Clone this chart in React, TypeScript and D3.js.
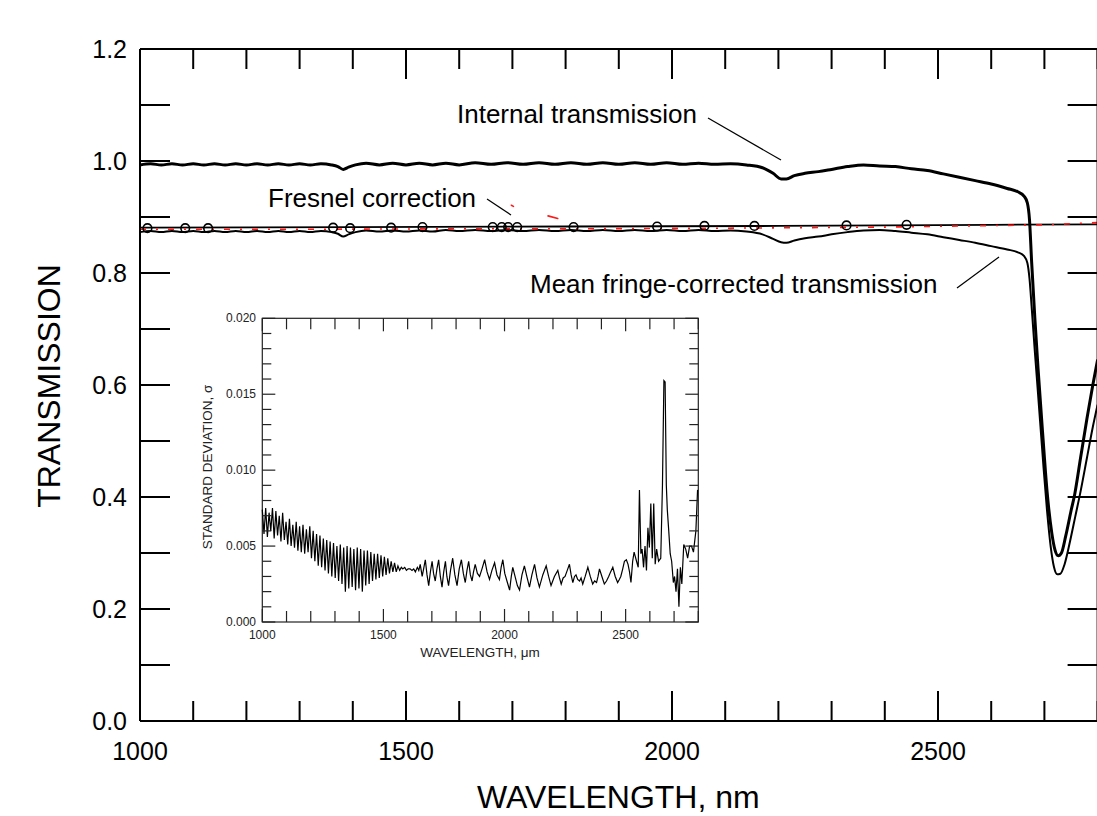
import React from "react";
import * as d3 from "d3";

// ---------- DATA ----------
const internalTransmission: [number, number][] = [
  [1000, 0.993], [1020, 0.995], [1040, 0.993], [1060, 0.995], [1080, 0.993], [1100, 0.995],
  [1120, 0.993], [1140, 0.995], [1160, 0.993], [1180, 0.995], [1200, 0.993], [1220, 0.995],
  [1240, 0.993], [1260, 0.995], [1280, 0.993], [1300, 0.995], [1320, 0.993], [1340, 0.995],
  [1360, 0.993], [1372, 0.99], [1382, 0.985], [1392, 0.989], [1405, 0.993], [1425, 0.996],
  [1450, 0.993], [1475, 0.996], [1500, 0.993], [1525, 0.996], [1550, 0.993], [1575, 0.996],
  [1600, 0.993], [1630, 0.997], [1660, 0.994], [1690, 0.997], [1720, 0.994], [1750, 0.997],
  [1780, 0.994], [1810, 0.997], [1840, 0.994], [1870, 0.997], [1900, 0.994], [1930, 0.997],
  [1960, 0.994], [1990, 0.997], [2020, 0.994], [2050, 0.996], [2080, 0.994], [2110, 0.995],
  [2140, 0.993], [2170, 0.988], [2190, 0.978], [2205, 0.968], [2215, 0.968], [2230, 0.974],
  [2250, 0.978], [2275, 0.981], [2300, 0.985], [2330, 0.99], [2360, 0.993], [2390, 0.991],
  [2420, 0.99], [2450, 0.986], [2480, 0.983], [2510, 0.977], [2540, 0.971], [2570, 0.965],
  [2600, 0.959], [2630, 0.951], [2650, 0.945], [2662, 0.937], [2668, 0.925], [2672, 0.895],
  [2676, 0.82], [2682, 0.72], [2688, 0.63], [2697, 0.51], [2705, 0.41], [2714, 0.335],
  [2720, 0.305], [2726, 0.295], [2732, 0.3], [2740, 0.33], [2750, 0.375], [2757, 0.405],
  [2768, 0.47], [2780, 0.54], [2791, 0.6], [2800, 0.645],
];

const meanFringeCorrected: [number, number][] = [
  [1000, 0.873], [1020, 0.875], [1040, 0.873], [1060, 0.875], [1080, 0.873], [1100, 0.875],
  [1120, 0.873], [1140, 0.875], [1160, 0.873], [1180, 0.875], [1200, 0.873], [1220, 0.875],
  [1240, 0.873], [1260, 0.875], [1280, 0.873], [1300, 0.875], [1320, 0.873], [1340, 0.875],
  [1360, 0.873], [1372, 0.87], [1382, 0.865], [1392, 0.869], [1405, 0.873], [1425, 0.876],
  [1450, 0.874], [1475, 0.876], [1500, 0.874], [1525, 0.876], [1550, 0.874], [1575, 0.877],
  [1600, 0.875], [1630, 0.877], [1660, 0.875], [1690, 0.877], [1720, 0.875], [1750, 0.877],
  [1780, 0.875], [1810, 0.877], [1840, 0.875], [1870, 0.877], [1900, 0.875], [1930, 0.877],
  [1960, 0.875], [1990, 0.877], [2020, 0.875], [2050, 0.877], [2080, 0.875], [2110, 0.876],
  [2140, 0.874], [2170, 0.869], [2190, 0.861], [2205, 0.855], [2215, 0.854], [2230, 0.858],
  [2250, 0.862], [2275, 0.865], [2300, 0.869], [2330, 0.873], [2360, 0.876], [2390, 0.877],
  [2420, 0.875], [2450, 0.872], [2480, 0.869], [2510, 0.864], [2540, 0.859], [2570, 0.854],
  [2600, 0.848], [2630, 0.842], [2650, 0.837], [2662, 0.83], [2668, 0.818], [2672, 0.79],
  [2676, 0.74], [2682, 0.66], [2688, 0.585], [2697, 0.47], [2705, 0.375], [2712, 0.31],
  [2718, 0.275], [2724, 0.262], [2730, 0.263], [2738, 0.28], [2748, 0.32], [2758, 0.365],
  [2768, 0.41], [2780, 0.47], [2791, 0.525], [2800, 0.565],
];

const fresnelLine: [number, number][] = [
  [1000, 0.881], [1400, 0.882], [1800, 0.883], [2200, 0.884], [2600, 0.886], [2800, 0.887],
];

const fresnelMarkers: [number, number][] = [
  [1014, 0.880], [1085, 0.880], [1128, 0.880], [1363, 0.881], [1395, 0.880], [1472, 0.881],
  [1531, 0.882], [1663, 0.882], [1680, 0.882], [1692, 0.882], [1709, 0.882], [1815, 0.882],
  [1972, 0.883], [2061, 0.884], [2155, 0.884], [2328, 0.885], [2441, 0.886],
];

// red dash-dot trace (flat part)
const redCurve: [number, number][] = [
  [1000, 0.878], [1300, 0.878], [1600, 0.879], [1690, 0.879], [1830, 0.879],
  [2100, 0.880], [2400, 0.882], [2700, 0.886], [2800, 0.890],
];
// isolated red excursion near 1700-1800 nm (null = break)
const redExcursion: [number, number | null][] = [
  [1698, 0.921], [1702, 0.919], [1703, null], [1767, 0.902], [1795, 0.895],
];

const stdDev: [number, number][] = [
  [1000, 0.0074], [1007, 0.0058], [1014, 0.0075], [1021, 0.0056], [1028, 0.0072], [1035, 0.006],
  [1042, 0.0075], [1049, 0.0055], [1056, 0.0073], [1063, 0.0057], [1070, 0.007], [1077, 0.0053],
  [1084, 0.0072], [1091, 0.0054], [1098, 0.0066], [1105, 0.0051], [1112, 0.0068], [1119, 0.005],
  [1126, 0.0064], [1133, 0.0049], [1140, 0.0066], [1147, 0.0047], [1154, 0.0063], [1161, 0.0046],
  [1168, 0.0064], [1175, 0.0045], [1182, 0.0061], [1189, 0.0046], [1196, 0.0063], [1203, 0.0042],
  [1210, 0.006], [1217, 0.004], [1224, 0.0058], [1231, 0.0037], [1238, 0.0057], [1245, 0.0036],
  [1252, 0.0055], [1259, 0.0034], [1266, 0.0054], [1273, 0.0032], [1280, 0.0053], [1287, 0.003],
  [1294, 0.0052], [1301, 0.0029], [1308, 0.005], [1315, 0.0027], [1322, 0.0051], [1329, 0.0025],
  [1336, 0.0049], [1343, 0.002], [1350, 0.005], [1357, 0.0022], [1364, 0.0049], [1371, 0.0023],
  [1378, 0.0048], [1385, 0.0021], [1392, 0.0049], [1399, 0.0022], [1406, 0.0048], [1413, 0.002],
  [1420, 0.0047], [1427, 0.0024], [1434, 0.0047], [1441, 0.0025], [1448, 0.0046], [1455, 0.0027],
  [1462, 0.0045], [1469, 0.0028], [1476, 0.0045], [1483, 0.0029], [1490, 0.0044], [1497, 0.003],
  [1504, 0.0043], [1511, 0.0031], [1518, 0.0042], [1525, 0.0032], [1532, 0.004], [1539, 0.0033],
  [1546, 0.0039], [1553, 0.0033], [1560, 0.0037], [1567, 0.0034], [1574, 0.0036], [1580, 0.0035],
  [1588, 0.0036], [1595, 0.0034], [1602, 0.0035], [1610, 0.0035], [1618, 0.0034], [1625, 0.0035],
  [1632, 0.0033], [1640, 0.0036], [1646, 0.0034], [1652, 0.0038], [1660, 0.003], [1666, 0.0035],
  [1673, 0.0041], [1680, 0.0031], [1687, 0.0024], [1694, 0.0033], [1701, 0.004], [1707, 0.0032],
  [1714, 0.0027], [1721, 0.0035], [1728, 0.0041], [1735, 0.003], [1742, 0.0023], [1749, 0.0033],
  [1756, 0.004], [1762, 0.003], [1769, 0.0024], [1777, 0.0034], [1786, 0.0042], [1795, 0.0031],
  [1804, 0.0024], [1813, 0.0035], [1822, 0.0041], [1830, 0.0032], [1838, 0.0026], [1845, 0.0034],
  [1852, 0.004], [1859, 0.0031], [1866, 0.0027], [1872, 0.0033], [1879, 0.0038], [1888, 0.0032],
  [1897, 0.003], [1907, 0.0035], [1918, 0.0041], [1928, 0.0033], [1938, 0.0028], [1948, 0.0034],
  [1959, 0.0039], [1969, 0.0031], [1979, 0.0028], [1986, 0.0036], [1993, 0.0041], [2001, 0.0032],
  [2010, 0.0027], [2021, 0.0021], [2028, 0.003], [2034, 0.0036], [2045, 0.0029], [2053, 0.0024],
  [2062, 0.0021], [2072, 0.0031], [2082, 0.0037], [2092, 0.003], [2103, 0.0023], [2113, 0.0031],
  [2124, 0.0038], [2134, 0.0029], [2144, 0.0023], [2158, 0.0031], [2172, 0.0037], [2182, 0.003],
  [2192, 0.0024], [2206, 0.003], [2220, 0.0034], [2227, 0.0029], [2234, 0.0025], [2242, 0.0029],
  [2250, 0.003], [2259, 0.0034], [2268, 0.0038], [2275, 0.0031], [2282, 0.0026], [2289, 0.003],
  [2295, 0.0031], [2302, 0.0028], [2310, 0.0027], [2316, 0.0029], [2323, 0.0025], [2333, 0.003],
  [2344, 0.0036], [2354, 0.003], [2364, 0.0025], [2372, 0.0027], [2380, 0.0026], [2386, 0.003],
  [2392, 0.0035], [2402, 0.003], [2412, 0.0025], [2421, 0.0027], [2430, 0.003], [2438, 0.0033],
  [2447, 0.0036], [2457, 0.003], [2467, 0.0026], [2474, 0.0028], [2480, 0.003], [2488, 0.0035],
  [2495, 0.004], [2503, 0.0041], [2510, 0.0038], [2516, 0.0033], [2522, 0.0026], [2529, 0.004],
  [2535, 0.0046], [2540, 0.0043], [2545, 0.004], [2552, 0.0036], [2557, 0.0087], [2563, 0.0045],
  [2568, 0.0048], [2574, 0.0036], [2580, 0.005], [2586, 0.0034], [2592, 0.0062], [2598, 0.0049],
  [2604, 0.0078], [2610, 0.0042], [2616, 0.0078], [2622, 0.0038], [2628, 0.0048], [2636, 0.004],
  [2645, 0.0042], [2652, 0.009], [2658, 0.0159], [2663, 0.0158], [2668, 0.009], [2672, 0.0074],
  [2678, 0.006], [2684, 0.0045], [2690, 0.004], [2697, 0.0026], [2702, 0.003], [2708, 0.002],
  [2714, 0.0035], [2720, 0.001], [2726, 0.0036], [2732, 0.0025], [2740, 0.0051], [2748, 0.0048],
  [2756, 0.0042], [2764, 0.005], [2772, 0.005], [2780, 0.0046], [2790, 0.006], [2797, 0.0087],
];

const mainXLabels = [1000, 1500, 2000, 2500];
const mainYLabels = [0, 0.2, 0.4, 0.6, 0.8, 1.0, 1.2];
const insetXLabels = [1000, 1500, 2000, 2500];
const insetYLabels = [0, 0.005, 0.01, 0.015, 0.02];

const FONT = "'Liberation Sans', Arial, Helvetica, sans-serif";

export default function App() {
  const W = 1097, H = 816;
  const x = d3.scaleLinear().domain([1000, 2800]).range([140, 1097.6]);
  const y = d3.scaleLinear().domain([0, 1.2]).range([721, 49]);
  const ix = d3.scaleLinear().domain([1000, 2800]).range([262.3, 698.3]);
  const iy = d3.scaleLinear().domain([0, 0.02]).range([622, 318.3]);

  const line = d3.line<[number, number]>().x(d => x(d[0])).y(d => y(d[1])).curve(d3.curveMonotoneX);
  const lineLin = d3.line<[number, number]>().x(d => x(d[0])).y(d => y(d[1]));
  const redLine = d3.line<[number, number | null]>()
    .defined(d => d[1] !== null)
    .x(d => x(d[0])).y(d => y(d[1] as number));
  const iline = d3.line<[number, number]>().x(d => ix(d[0])).y(d => iy(d[1]));

  const xTicks = d3.range(1000, 2801, 100);
  const yTicks = d3.range(0, 13).map(i => i / 10);
  const ixTicks = d3.range(1000, 2801, 100);
  const iyTicks = d3.range(0, 21).map(i => i / 1000);

  const x0 = x(1000), x1 = x(2800), y0 = y(0), y1 = y(1.2);

  return (
    <svg width={W} height={H} style={{ position: "absolute", left: 0, top: 0, background: "#fff" }}
      fontFamily={FONT}>
      <rect x={0} y={0} width={W} height={H} fill="#fff" />

      {/* main curves */}
      <path d={lineLin(fresnelLine) || ""} fill="none" stroke="#000" strokeWidth={1.8} />
      <path d={line(meanFringeCorrected) || ""} fill="none" stroke="#000" strokeWidth={2} />
      <path d={line(internalTransmission) || ""} fill="none" stroke="#000" strokeWidth={3} />
      <path d={lineLin(redCurve) || ""} fill="none" stroke="#ff1a1a" strokeWidth={1.6}
        strokeDasharray="6 10 2 10" />
      <path d={redLine(redExcursion) || ""} fill="none" stroke="#ff1a1a" strokeWidth={1.6}
        strokeDasharray="10 6" strokeLinecap="round" />
      {fresnelMarkers.map((d, i) => (
        <circle key={i} cx={x(d[0])} cy={y(d[1])} r={4.3} fill="none" stroke="#000" strokeWidth={1.6} />
      ))}

      {/* main frame */}
      <g stroke="#000" strokeWidth={2} fill="none">
        <line x1={x0} y1={y0} x2={x1} y2={y0} />
        <line x1={x0} y1={y1} x2={x1} y2={y1} />
        <line x1={x0} y1={y0} x2={x0} y2={y1} />
        <line x1={x1} y1={y0} x2={x1} y2={y1} />
        {xTicks.map(t => {
          const len = t % 500 === 0 ? 30 : 20;
          return (
            <g key={"xt" + t}>
              <line x1={x(t)} y1={y0} x2={x(t)} y2={y0 - len} />
              <line x1={x(t)} y1={y1} x2={x(t)} y2={y1 + len} />
            </g>
          );
        })}
        {yTicks.map(t => (
          <g key={"yt" + t}>
            <line x1={x0} y1={y(t)} x2={x0 + 30} y2={y(t)} />
            <line x1={x1} y1={y(t)} x2={x1 - 30} y2={y(t)} />
          </g>
        ))}
      </g>
      <g fontSize={25} fill="#000">
        {mainXLabels.map(t => (
          <text key={"xl" + t} x={x(t)} y={760} textAnchor="middle">{t}</text>
        ))}
        {mainYLabels.map(t => (
          <text key={"yl" + t} x={127} y={y(t)} textAnchor="end" dominantBaseline="central">
            {d3.format(".1f")(t)}
          </text>
        ))}
      </g>
      <text x={477} y={808} fontSize={32} fill="#000">WAVELENGTH, nm</text>
      <text transform="translate(60,386) rotate(-90)" fontSize={32} textAnchor="middle" fill="#000">
        TRANSMISSION
      </text>

      {/* annotations */}
      <g fontSize={26} fill="#000">
        <text x={457} y={123}>Internal transmission</text>
        <text x={268} y={207}>Fresnel correction</text>
        <text x={530} y={293}>Mean fringe-corrected transmission</text>
      </g>
      <g stroke="#000" strokeWidth={1.2}>
        <line x1={708} y1={118} x2={781} y2={160} />
        <line x1={487} y1={199} x2={511} y2={215} />
        <line x1={957} y1={288} x2={999} y2={257} />
      </g>

      {/* inset */}
      <rect x={ix(1000)} y={iy(0.02)} width={ix(2800) - ix(1000)} height={iy(0) - iy(0.02)}
        fill="#fff" stroke="#222" strokeWidth={1.2} />
      <path d={iline(stdDev) || ""} fill="none" stroke="#000" strokeWidth={1.2} />
      <g stroke="#222" strokeWidth={1.2}>
        {ixTicks.map(t => {
          const len = t % 500 === 0 ? 13 : 11;
          return (
            <g key={"ixt" + t}>
              <line x1={ix(t)} y1={iy(0)} x2={ix(t)} y2={iy(0) - len} />
              <line x1={ix(t)} y1={iy(0.02)} x2={ix(t)} y2={iy(0.02) + len} />
            </g>
          );
        })}
        {iyTicks.map((t, i) => {
          const len = i % 5 === 0 ? 13 : 9;
          return (
            <g key={"iyt" + i}>
              <line x1={ix(1000)} y1={iy(t)} x2={ix(1000) + len} y2={iy(t)} />
              <line x1={ix(2800)} y1={iy(t)} x2={ix(2800) - len} y2={iy(t)} />
            </g>
          );
        })}
      </g>
      <g fontSize={12} fill="#222">
        {insetXLabels.map(t => (
          <text key={"ixl" + t} x={ix(t)} y={639} textAnchor="middle">{t}</text>
        ))}
        {insetYLabels.map(t => (
          <text key={"iyl" + t} x={256} y={iy(t)} textAnchor="end" dominantBaseline="central">
            {d3.format(".3f")(t)}
          </text>
        ))}
      </g>
      <text x={480} y={657} fontSize={13.5} textAnchor="middle" fill="#222">WAVELENGTH, μm</text>
      <text transform="translate(212,467) rotate(-90)" fontSize={13.5} textAnchor="middle" fill="#222">
        STANDARD DEVIATION, σ
      </text>
    </svg>
  );
}
